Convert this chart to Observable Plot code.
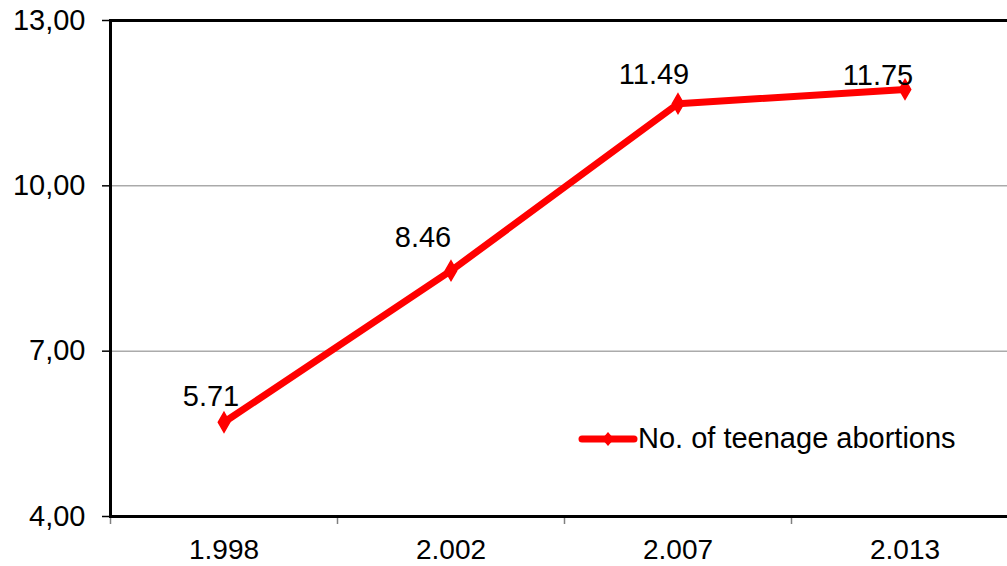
<!DOCTYPE html>
<html>
<head>
<meta charset="utf-8">
<script src="https://cdn.jsdelivr.net/npm/d3@7"></script>
<script src="https://cdn.jsdelivr.net/npm/@observablehq/plot@0.6"></script>
<style>
  html, body { margin: 0; padding: 0; background: #fff; }
  #wrap { position: relative; width: 1007px; height: 566px; overflow: hidden; font-family: "Liberation Sans", Arial, sans-serif; }
  #legend { position: absolute; left: 578px; top: 422px; display: flex; align-items: center; font-size: 29px; color: #000; white-space: nowrap; }
  #legend svg { display: block; }
</style>
</head>
<body>
<div id="wrap"></div>
<script>
const years = ["1.998", "2.002", "2.007", "2.013"];
const values = [5.71, 8.46, 11.49, 11.75];
const yTicks = [4, 7, 10, 13];
const seriesName = "No. of teenage abortions";

// label placement (style only): offsets in pixels relative to each point
const labelDx = [-13, -28, -24, -27];
const labelDy = [-26, -33, -29, -14];

const data = years.map((year, i) => ({ i, year, v: values[i] }));
const xIdx = years.map((_, i) => i);
const xBounds = [...xIdx.map(i => i - 0.5), years.length - 0.5];
const fmtY = d => d.toFixed(2).replace(".", ",");

const labelMarks = data.map((d, k) =>
  Plot.text([d], { x: "i", y: "v", text: e => e.v.toFixed(2), dx: labelDx[k], dy: labelDy[k], fontSize: 29, fill: "black" })
);

const chart = Plot.plot({
  width: 1007,
  height: 566,
  marginLeft: 110,
  marginTop: 20,
  marginBottom: 50,
  marginRight: -11,
  style: { fontFamily: "Liberation Sans, Arial, sans-serif", background: "white", color: "black" },
  x: { type: "linear", domain: [-0.5, years.length - 0.5], range: [110, 1018] },
  y: { domain: [4, 13], range: [516, 20] },
  marks: [
    Plot.gridY([7, 10], { stroke: "#808080", strokeOpacity: 1, strokeWidth: 1 }),
    Plot.axisX(xBounds, { tickSize: 8, tickFormat: () => "", stroke: "#808080", strokeWidth: 1.5, label: null }),
    Plot.axisX(xIdx, { tickSize: 0, tickPadding: 23, tickFormat: i => years[i], fontSize: 28, label: null }),
    Plot.axisY(yTicks, { tickSize: 8, tickPadding: 17, tickFormat: fmtY, fontSize: 29, label: null, strokeWidth: 1.5 }),
    Plot.frame({ stroke: "black", strokeWidth: 3 }),
    Plot.line(data, { x: "i", y: "v", stroke: "#ff0000", strokeWidth: 7 }),
    Plot.dot(data, { x: "i", y: "v", symbol: "diamond", r: 6, fill: "#ff0000", stroke: "#ff0000" }),
    ...labelMarks
  ]
});

const wrap = document.getElementById("wrap");
wrap.appendChild(chart);

const legend = document.createElement("div");
legend.id = "legend";
legend.innerHTML = `<svg width="60" height="20"><line x1="4" y1="10" x2="56" y2="10" stroke="#ff0000" stroke-width="7" stroke-linecap="round"/><path d="M30,3 L36,10 L30,17 L24,10 Z" fill="#ff0000"/></svg><span></span>`;
legend.querySelector("span").textContent = seriesName;
wrap.appendChild(legend);
</script>
</body>
</html>
